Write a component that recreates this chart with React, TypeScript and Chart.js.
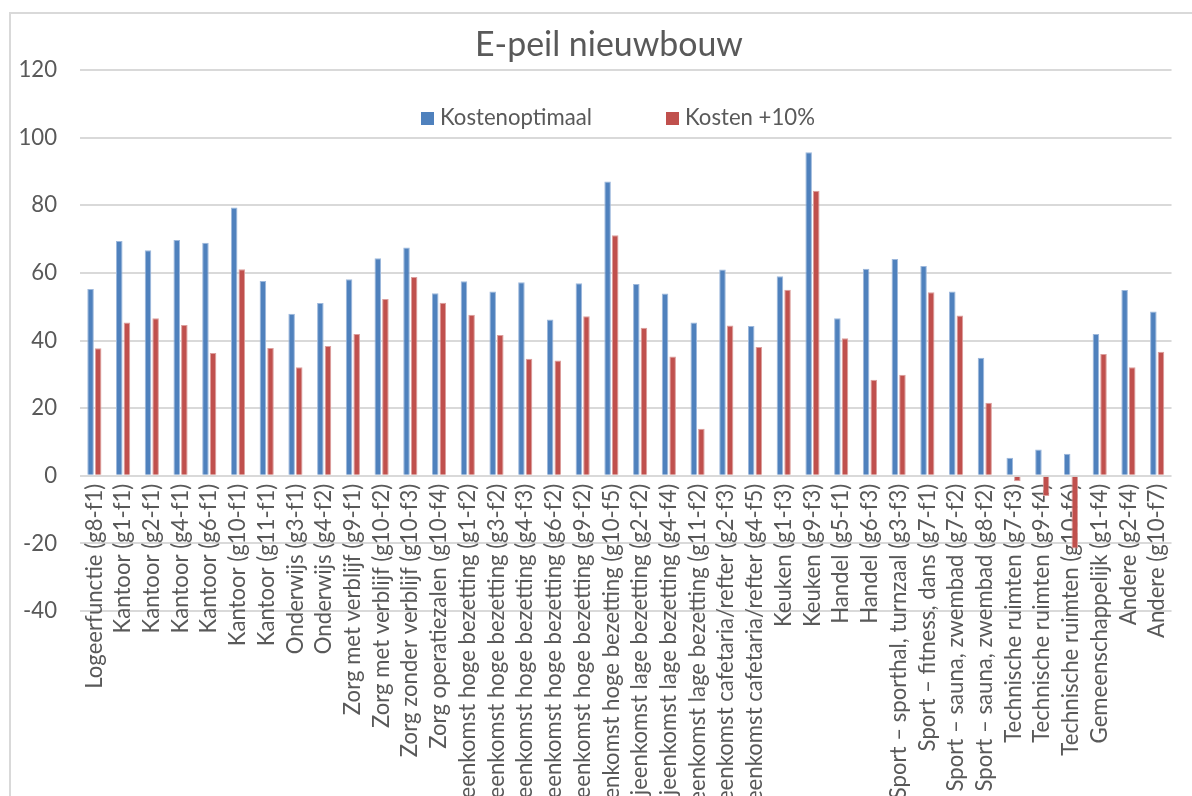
import { useEffect, useRef } from 'react';
import { Chart, registerables } from 'chart.js';

Chart.register(...registerables);

const chartTitle = 'E-peil nieuwbouw';
const seriesNames = ['Kostenoptimaal', 'Kosten +10%'];
const seriesColors = ['#4F81BD', '#C0504D'];
const seriesEdges = ['#9db8dc', '#dc9e9c'];

const categories = [
  'Logeerfunctie (g8-f1)',
  'Kantoor (g1-f1)',
  'Kantoor (g2-f1)',
  'Kantoor (g4-f1)',
  'Kantoor (g6-f1)',
  'Kantoor (g10-f1)',
  'Kantoor (g11-f1)',
  'Onderwijs (g3-f1)',
  'Onderwijs (g4-f2)',
  'Zorg met verblijf (g9-f1)',
  'Zorg met verblijf (g10-f2)',
  'Zorg zonder verblijf (g10-f3)',
  'Zorg operatiezalen (g10-f4)',
  'Bijeenkomst hoge bezetting (g1-f2)',
  'Bijeenkomst hoge bezetting (g3-f2)',
  'Bijeenkomst hoge bezetting (g4-f3)',
  'Bijeenkomst hoge bezetting (g6-f2)',
  'Bijeenkomst hoge bezetting (g9-f2)',
  'Bijeenkomst hoge bezetting (g10-f5)',
  'Bijeenkomst lage bezetting (g2-f2)',
  'Bijeenkomst lage bezetting (g4-f4)',
  'Bijeenkomst lage bezetting (g11-f2)',
  'Bijeenkomst cafetaria/refter (g2-f3)',
  'Bijeenkomst cafetaria/refter (g4-f5)',
  'Keuken (g1-f3)',
  'Keuken (g9-f3)',
  'Handel (g5-f1)',
  'Handel (g6-f3)',
  'Sport – sporthal, turnzaal (g3-f3)',
  'Sport – fitness, dans (g7-f1)',
  'Sport – sauna, zwembad (g7-f2)',
  'Sport – sauna, zwembad (g8-f2)',
  'Technische ruimten (g7-f3)',
  'Technische ruimten (g9-f4)',
  'Technische ruimten (g10-f6)',
  'Gemeenschappelijk (g1-f4)',
  'Andere (g2-f4)',
  'Andere (g10-f7)',
];

const kostenoptimaal = [
  55.2, 69.4, 66.7, 69.7, 68.9, 79.3, 57.6, 47.9, 51.1, 58.1,
  64.3, 67.5, 54.0, 57.5, 54.5, 57.2, 46.2, 56.9, 87.0, 56.7,
  53.9, 45.3, 61.0, 44.3, 59.0, 95.7, 46.6, 61.2, 64.1, 62.0,
  54.5, 34.9, 5.3, 7.8, 6.5, 41.9, 54.9, 48.6,
];

const kostenPlus10 = [
  37.7, 45.3, 46.6, 44.6, 36.3, 61.1, 37.8, 32.1, 38.4, 41.9,
  52.3, 58.8, 51.2, 47.6, 41.6, 34.6, 34.1, 47.2, 71.1, 43.8,
  35.3, 13.9, 44.4, 38.1, 55.0, 84.3, 40.7, 28.4, 29.9, 54.3,
  47.4, 21.6, -1.6, -6.0, -21.5, 36.0, 32.1, 36.7,
];

const yMin = -40;
const yMax = 120;
const yStep = 20;

const FAMILY = "Lato, 'Noto Sans', sans-serif";
const TEXT_COLOR = '#595959';
const GRID_COLOR = '#d9d9d9';

function fitSize(text: string, width: number): number {
  const ctx = document.createElement('canvas').getContext('2d');
  if (!ctx) return 20;
  ctx.font = `100px ${FAMILY}`;
  return (100 * width) / ctx.measureText(text).width;
}

export default function App() {
  const canvasRef = useRef<HTMLCanvasElement | null>(null);

  useEffect(() => {
    if (!canvasRef.current) return;
    const smallSize = fitSize('Kostenoptimaal', 152);
    const titleSize = fitSize(chartTitle, 268);

    const decor = {
      id: 'decor',
      beforeDraw(chart: any) {
        const ctx = chart.ctx;
        ctx.save();
        ctx.strokeStyle = GRID_COLOR;
        ctx.lineWidth = 2;
        ctx.strokeRect(10, 13, 3000, 3000);
        ctx.restore();
      },
      afterDraw(chart: any) {
        const ctx = chart.ctx;
        ctx.save();
        ctx.fillStyle = TEXT_COLOR;
        ctx.textAlign = 'center';
        ctx.textBaseline = 'alphabetic';
        ctx.font = `${titleSize}px ${FAMILY}`;
        ctx.fillText(chartTitle, 609, 56);

        const items = [
          { x: 421, text: seriesNames[0], color: seriesColors[0] },
          { x: 666, text: seriesNames[1], color: seriesColors[1] },
        ];
        ctx.font = `${smallSize}px ${FAMILY}`;
        ctx.textAlign = 'left';
        for (const it of items) {
          ctx.fillStyle = it.color;
          ctx.fillRect(it.x, 112, 13, 13);
          ctx.fillStyle = TEXT_COLOR;
          ctx.fillText(it.text, it.x + 19, 125);
        }
        ctx.restore();
      },
    };

    const chart = new Chart(canvasRef.current, {
      type: 'bar',
      data: {
        labels: categories,
        datasets: [
          {
            label: seriesNames[0],
            data: kostenoptimaal,
            backgroundColor: seriesColors[0],
            borderColor: seriesEdges[0],
            borderWidth: 1,
          },
          {
            label: seriesNames[1],
            data: kostenPlus10,
            backgroundColor: seriesColors[1],
            borderColor: seriesEdges[1],
            borderWidth: 1,
          },
        ],
      },
      options: {
        responsive: false,
        animation: false,
        devicePixelRatio: 1,
        layout: { padding: { top: 70, right: 18, bottom: 185, left: 0 } },
        datasets: { bar: { categoryPercentage: 0.53, barPercentage: 0.86 } },
        plugins: {
          legend: { display: false },
          title: { display: false },
          tooltip: { enabled: false },
        },
        scales: {
          x: {
            position: { y: 0 } as any,
            grid: { display: false, drawTicks: false },
            border: { display: false },
            ticks: {
              autoSkip: false,
              maxRotation: 90,
              minRotation: 90,
              padding: 8,
              color: TEXT_COLOR,
              font: { family: FAMILY, size: smallSize },
            },
          },
          y: {
            min: yMin,
            max: yMax,
            afterFit(scale: any) {
              scale.width = 80;
            },
            grid: { color: GRID_COLOR, lineWidth: 2, drawTicks: false },
            border: { display: false },
            ticks: {
              stepSize: yStep,
              padding: 23,
              color: TEXT_COLOR,
              font: { family: FAMILY, size: smallSize },
            },
          },
        },
      },
      plugins: [decor],
    });
    return () => chart.destroy();
  }, []);

  return (
    <div style={{ position: 'fixed', left: 0, top: 0, width: 1192, height: 796, background: '#fff', overflow: 'hidden' }}>
      <canvas ref={canvasRef} width={1192} height={796} style={{ display: 'block' }} />
    </div>
  );
}
